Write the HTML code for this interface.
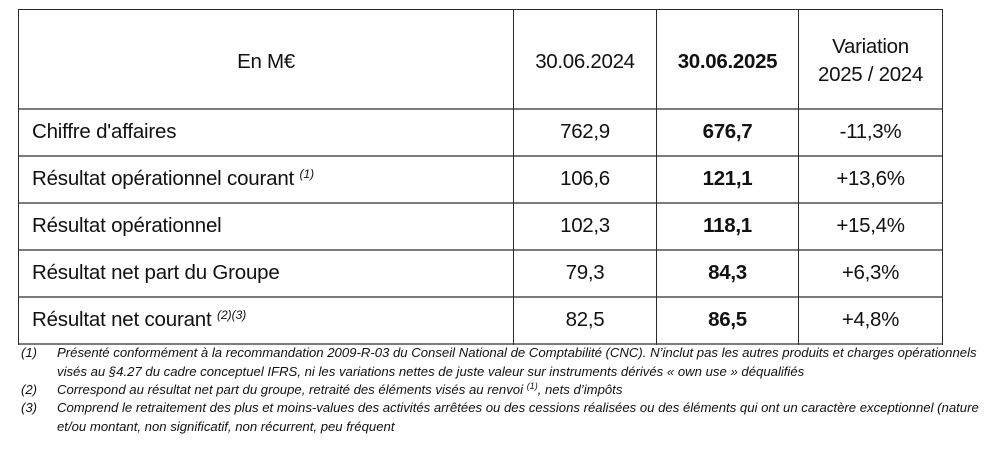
<!DOCTYPE html>
<html>
<head>
<meta charset="utf-8">
<style>
  html,body{margin:0;padding:0;background:#fff;}
  body{width:1000px;height:461px;position:relative;overflow:hidden;font-family:"Liberation Sans",Arial,sans-serif;color:#111;}
  .h{position:absolute;left:18px;width:925px;height:2px;background:#7c7c7c;}
  .v{position:absolute;top:9px;height:336px;width:1px;background:#2a2a2a;}
  .c{position:absolute;text-align:center;font-size:20.5px;letter-spacing:-0.3px;white-space:nowrap;}
  .l{position:absolute;left:32px;font-size:20.5px;letter-spacing:-0.2px;white-space:nowrap;}
  .b{font-weight:bold;}
  sup{font-size:12px;font-style:italic;vertical-align:0;position:relative;top:-7px;letter-spacing:0;}
  .fn{position:absolute;font-size:13.15px;font-style:italic;white-space:nowrap;line-height:18px;color:#111;}
  .fn sup{font-size:9px;top:-5px;}
</style>
</head>
<body>
<!-- borders -->
<div style="position:absolute;left:18px;top:9px;width:925px;height:1px;background:#2a2a2a;"></div>
<div class="h" style="top:108px;"></div>
<div class="h" style="top:155px;"></div>
<div class="h" style="top:202px;"></div>
<div class="h" style="top:249px;"></div>
<div class="h" style="top:296px;"></div>
<div class="h" style="top:343px;"></div>
<div class="v" style="left:18px;"></div>
<div class="v" style="left:513px;"></div>
<div class="v" style="left:656px;"></div>
<div class="v" style="left:798px;"></div>
<div class="v" style="left:942px;"></div>

<!-- header -->
<div class="c" style="left:19px;width:494px;top:50px;line-height:24px;">En M€</div>
<div class="c" style="left:514px;width:142px;top:50px;line-height:24px;">30.06.2024</div>
<div class="c b" style="left:657px;width:141px;top:50px;line-height:24px;">30.06.2025</div>
<div class="c" style="left:799px;width:143px;top:33px;line-height:28px;">Variation<br>2025 / 2024</div>

<!-- rows -->
<div class="l" style="top:120px;line-height:24px;">Chiffre d'affaires</div>
<div class="c" style="left:514px;width:142px;top:120px;line-height:24px;">762,9</div>
<div class="c b" style="left:657px;width:141px;top:120px;line-height:24px;">676,7</div>
<div class="c" style="left:799px;width:143px;top:120px;line-height:24px;">-11,3%</div>

<div class="l" style="top:167px;line-height:24px;">Résultat opérationnel courant <sup>(1)</sup></div>
<div class="c" style="left:514px;width:142px;top:167px;line-height:24px;">106,6</div>
<div class="c b" style="left:657px;width:141px;top:167px;line-height:24px;">121,1</div>
<div class="c" style="left:799px;width:143px;top:167px;line-height:24px;">+13,6%</div>

<div class="l" style="top:214px;line-height:24px;">Résultat opérationnel</div>
<div class="c" style="left:514px;width:142px;top:214px;line-height:24px;">102,3</div>
<div class="c b" style="left:657px;width:141px;top:214px;line-height:24px;">118,1</div>
<div class="c" style="left:799px;width:143px;top:214px;line-height:24px;">+15,4%</div>

<div class="l" style="top:261px;line-height:24px;">Résultat net part du Groupe</div>
<div class="c" style="left:514px;width:142px;top:261px;line-height:24px;">79,3</div>
<div class="c b" style="left:657px;width:141px;top:261px;line-height:24px;">84,3</div>
<div class="c" style="left:799px;width:143px;top:261px;line-height:24px;">+6,3%</div>

<div class="l" style="top:308px;line-height:24px;">Résultat net courant <sup>(2)(3)</sup></div>
<div class="c" style="left:514px;width:142px;top:308px;line-height:24px;">82,5</div>
<div class="c b" style="left:657px;width:141px;top:308px;line-height:24px;">86,5</div>
<div class="c" style="left:799px;width:143px;top:308px;line-height:24px;">+4,8%</div>

<!-- footnotes -->
<div class="fn" style="left:21px;top:344px;">(1)</div>
<div class="fn" style="left:57px;top:344px;">Présenté conformément à la recommandation 2009-R-03 du Conseil National de Comptabilité (CNC). N’inclut pas les autres produits et charges opérationnels</div>
<div class="fn" style="left:57px;top:362.5px;">visés au §4.27 du cadre conceptuel IFRS, ni les variations nettes de juste valeur sur instruments dérivés « own use » déqualifiés</div>
<div class="fn" style="left:21px;top:381px;">(2)</div>
<div class="fn" style="left:57px;top:381px;">Correspond au résultat net part du groupe, retraité des éléments visés au renvoi <sup>(1)</sup>, nets d’impôts</div>
<div class="fn" style="left:21px;top:399px;">(3)</div>
<div class="fn" style="left:57px;top:399px;">Comprend le retraitement des plus et moins-values des activités arrêtées ou des cessions réalisées ou des éléments qui ont un caractère exceptionnel (nature</div>
<div class="fn" style="left:57px;top:417.5px;">et/ou montant, non significatif, non récurrent, peu fréquent</div>
</body>
</html>
